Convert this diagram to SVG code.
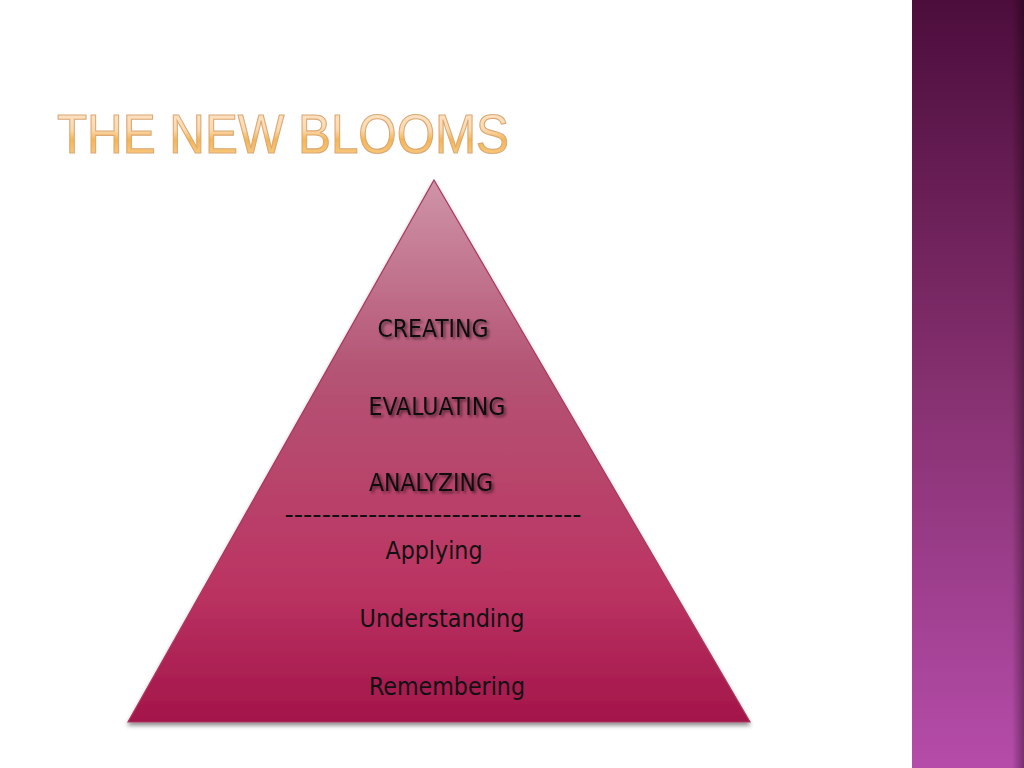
<svg xmlns="http://www.w3.org/2000/svg" width="1024" height="768" viewBox="0 0 1024 768">
<defs>
<linearGradient id="side" x1="0" y1="0" x2="0" y2="1">
<stop offset="0" stop-color="#4c0d3c"/>
<stop offset="0.5" stop-color="#85306f"/>
<stop offset="1" stop-color="#b54ca9"/>
</linearGradient>
<linearGradient id="sideEdge" x1="0" y1="0" x2="1" y2="0">
<stop offset="0" stop-color="#000" stop-opacity="0"/>
<stop offset="1" stop-color="#000" stop-opacity="0.35"/>
</linearGradient>
<linearGradient id="tri" x1="0" y1="0" x2="0" y2="1">
<stop offset="0" stop-color="#cf94a8"/>
<stop offset="0.35" stop-color="#b45474"/>
<stop offset="0.75" stop-color="#bb3462"/>
<stop offset="1" stop-color="#a3154a"/>
</linearGradient>
<linearGradient id="title" x1="0" y1="0" x2="0" y2="1">
<stop offset="0" stop-color="#fde8d2"/>
<stop offset="0.45" stop-color="#fbd8ab"/>
<stop offset="0.6" stop-color="#f5b552"/>
<stop offset="1" stop-color="#fbd59c"/>
</linearGradient>
<filter id="shadow" x="-10%" y="-10%" width="120%" height="120%">
<feDropShadow dx="0" dy="3" stdDeviation="2" flood-color="#000" flood-opacity="0.45"/>
</filter>
<filter id="tshadow" x="-10%" y="-30%" width="120%" height="160%">
<feDropShadow dx="2" dy="2" stdDeviation="1.5" flood-color="#000" flood-opacity="0.55"/>
</filter>
</defs>
<style>
.lbl{font-family:"DejaVu Sans Condensed","DejaVu Sans",sans-serif;font-size:25px;fill:#111;text-anchor:middle}
.up{filter:url(#tshadow)}
</style>
<rect width="1024" height="768" fill="#fff"/>
<g id="sidebar">
<rect x="912" y="0" width="112" height="768" fill="url(#side)"/>
<rect x="1012" y="0" width="12" height="768" fill="url(#sideEdge)"/>
</g>
<g id="title-text">
<text x="57" y="153" font-family="'Liberation Sans',sans-serif" font-size="56" textLength="452" lengthAdjust="spacingAndGlyphs" fill="url(#title)" stroke="#d9a977" stroke-width="1.2">THE NEW BLOOMS</text>
</g>
<g id="pyramid">
<polygon points="434,180 750,722 128,722" fill="url(#tri)" stroke="#a8385e" stroke-width="1.2" filter="url(#shadow)"/>
</g>
<g id="labels">
<text class="lbl up" x="433" y="337" textLength="111" lengthAdjust="spacingAndGlyphs">CREATING</text>
<text class="lbl up" x="437" y="415" textLength="137" lengthAdjust="spacingAndGlyphs">EVALUATING</text>
<text class="lbl up" x="431" y="491" textLength="124" lengthAdjust="spacingAndGlyphs">ANALYZING</text>
<text class="lbl" x="433" y="523" textLength="297" lengthAdjust="spacingAndGlyphs">--------------------------------</text>
<text class="lbl" x="434" y="559" textLength="97" lengthAdjust="spacingAndGlyphs">Applying</text>
<text class="lbl" x="442" y="627" textLength="165" lengthAdjust="spacingAndGlyphs">Understanding</text>
<text class="lbl" x="447" y="695" textLength="156" lengthAdjust="spacingAndGlyphs">Remembering</text>
</g>
</svg>
